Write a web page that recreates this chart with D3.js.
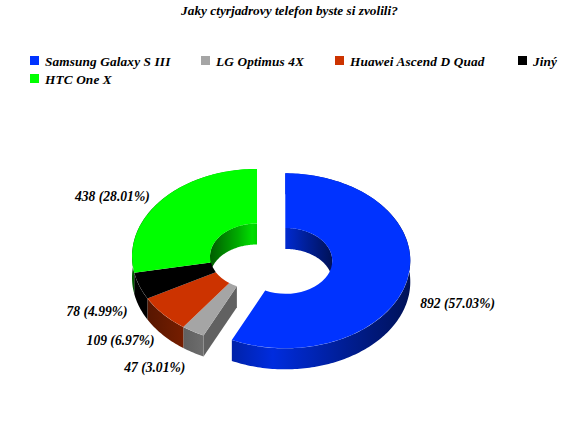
<!DOCTYPE html>
<html><head><meta charset="utf-8">
<script src="https://cdn.jsdelivr.net/npm/d3@7"></script>
<style>html,body{margin:0;padding:0;background:#fff}svg{display:block}
text{font-family:"Liberation Serif",serif;font-style:italic;font-weight:bold;fill:#000}</style>
</head><body><svg id="c" width="580" height="426"></svg>
<script>
const title = "Jaky ctyrjadrovy telefon byste si zvolili?";
const categories = ["Samsung Galaxy S III","LG Optimus 4X","Huawei Ascend D Quad","Jiný","HTC One X"];
const values = [892,47,109,78,438];
const percents = ["57.03%","3.01%","6.97%","4.99%","28.01%"];
const colors = ["#0033ff","#a5a5a5","#cc3300","#000000","#00ff00"];
const exploded = [29,0,0,0,0];
const legendX = [30,201,335,518,30];
const legendRow = [0,0,0,0,1];
const labelNudge = [[-9.5,1],[-10.5,8.6],[1,1],[9,2],[-1,0]];

const cx=257, cy=256.4, R=125, r=47, tilt=0.7, depth=21;
const svg=d3.select("#c");
const defs=svg.append("defs");
svg.append("text").attr("x",289.5).attr("y",14.5).attr("text-anchor","middle").attr("font-size",13.3).text(title);

const leg=svg.append("g");
categories.forEach((c,i)=>{
  const y=56+legendRow[i]*18;
  leg.append("rect").attr("x",legendX[i]).attr("y",y).attr("width",9).attr("height",9).attr("fill",colors[i]);
  leg.append("text").attr("x",legendX[i]+15).attr("y",y+10).attr("font-size",13.3).attr("letter-spacing",0.12).text(c);
});

const pie=d3.pie().sort(null).value(d=>d).startAngle(0).endAngle(2*Math.PI);
const arcs=pie(values);
const arcGen=d3.arc().innerRadius(r).outerRadius(R);
const px=(rad,a)=>rad*Math.sin(a), py=(rad,a)=>-rad*Math.cos(a)*tilt;
const shade=d3.scaleLinear().domain([0,.3,.45,.7,1]).range([.36,.68,.87,.62,.34]);
function grad(id,color,rad){
  const g=defs.append("linearGradient").attr("id",id).attr("gradientUnits","userSpaceOnUse")
    .attr("x1",-rad).attr("x2",rad).attr("y1",0).attr("y2",0);
  d3.range(0,1.01,.05).forEach(t=>{
    const c=d3.rgb(color);
    g.append("stop").attr("offset",t).attr("stop-color",d3.rgb(c.r*shade(t),c.g*shade(t),c.b*shade(t)).formatHex());
  });
  return `url(#${id})`;
}
function band(rad,a0,a1){
  const n=Math.max(2,Math.ceil((a1-a0)/0.02));
  const as=d3.range(n+1).map(i=>a0+(a1-a0)*i/n);
  const top=as.map(a=>[px(rad,a),py(rad,a)]);
  const bot=as.slice().reverse().map(a=>[px(rad,a),py(rad,a)+depth]);
  return d3.line()(top.concat(bot))+"Z";
}
function cut(a){
  const p=[[px(r,a),py(r,a)],[px(R,a),py(R,a)],[px(R,a),py(R,a)+depth],[px(r,a),py(r,a)+depth]];
  return d3.line()(p)+"Z";
}
const farSide=[[0,Math.PI/2],[3*Math.PI/2,2*Math.PI]];
const layers=["cut","inner","outer","top"].map(n=>svg.append("g").attr("class",n));
arcs.forEach((d,i)=>{
  const mid=(d.startAngle+d.endAngle)/2, e=exploded[i];
  const t=`translate(${cx+px(e,mid)},${cy+py(e,mid)})`;
  const prev=exploded[(i+4)%5]>0, next=exploded[(i+1)%5]>0;
  if(prev) layers[0].append("path").attr("transform",t).attr("d",cut(d.startAngle)).attr("fill",d3.rgb(colors[i]).darker(1.5));
  if(next) layers[0].append("path").attr("transform",t).attr("d",cut(d.endAngle)).attr("fill",d3.rgb(colors[i]).darker(1.5));
  const innerFill=grad("gi"+i,colors[i],r);
  farSide.forEach(([s,f])=>{
    const a0=Math.max(d.startAngle,s), a1=Math.min(d.endAngle,f);
    if(a1>a0) layers[1].append("path").attr("transform",t).attr("d",band(r,a0,a1)).attr("fill",innerFill);
  });
  layers[2].append("path").attr("transform",t).attr("d",band(R,d.startAngle,d.endAngle)).attr("fill",grad("go"+i,colors[i],R));
  layers[3].append("path").attr("transform",t+` scale(1,${tilt})`).attr("d",arcGen(d)).attr("fill",colors[i]);
  const below=Math.cos(mid)<0;
  const lbl=svg.append("text").attr("font-size",13.6).attr("text-anchor","middle").text(`${values[i]} (${percents[i]})`);
  const hw=lbl.node().getComputedTextLength()/2;
  const x=cx+px(e,mid)+(R+24+hw)*Math.sin(mid)+labelNudge[i][0];
  const y=cy+py(e,mid)-(R*tilt+8)*Math.cos(mid)+(below?20:0)+5+labelNudge[i][1];
  lbl.attr("x",x).attr("y",y);
});
</script></body></html>
